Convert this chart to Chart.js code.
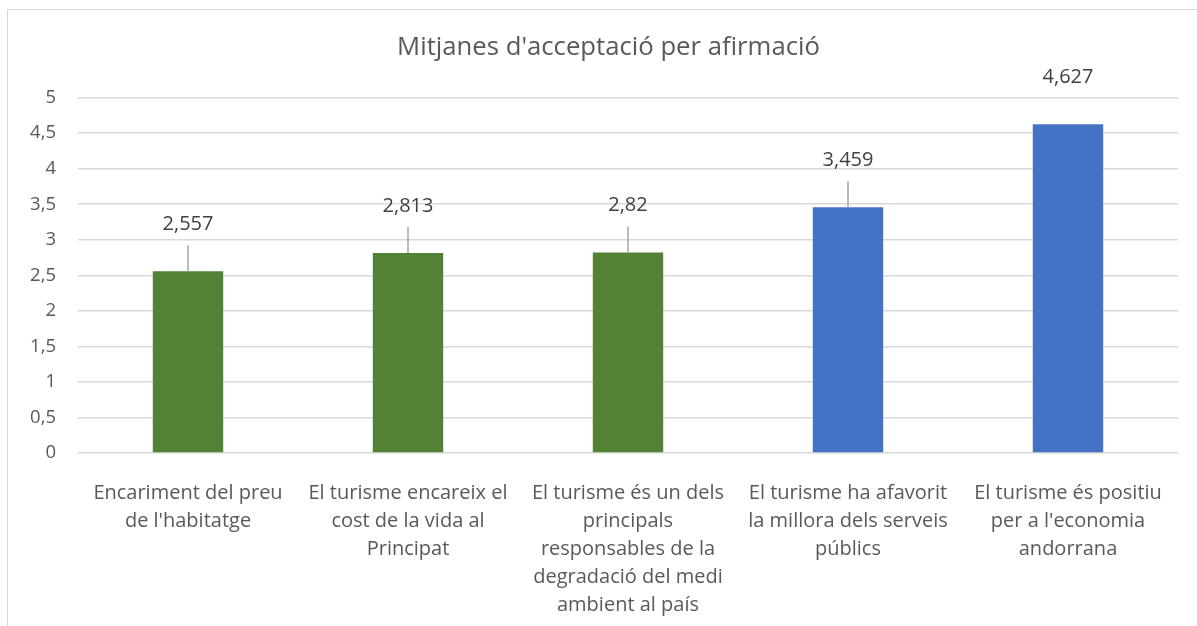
<!DOCTYPE html>
<html>
<head>
<meta charset="utf-8">
<script src="https://cdn.jsdelivr.net/npm/chart.js@4/dist/chart.umd.min.js"></script>
<style>
  body { margin: 0; background: #fff; }
  #wrap { position: relative; width: 1197px; height: 626px; overflow: hidden; }
  #frame { position: absolute; left: 7px; top: 9px; width: 1300px; height: 700px; border: 1px solid #d9d9d9; }
  canvas { position: absolute; left: 0; top: 0; }
</style>
</head>
<body>
<div id="wrap">
  <div id="frame"></div>
  <canvas id="barChart" width="1197" height="626"></canvas>
</div>
<script>
// categories, already wrapped as in the original
const categories = [
  ["Encariment del preu", "de l'habitatge"],
  ["El turisme encareix el", "cost de la vida al", "Principat"],
  ["El turisme és un dels", "principals", "responsables de la", "degradació del medi", "ambient al país"],
  ["El turisme ha afavorit", "la millora dels serveis", "públics"],
  ["El turisme és positiu", "per a l'economia", "andorrana"]
]
const values = [2.557, 2.813, 2.82, 3.459, 4.627]
const valueLabels = ["2,557", "2,813", "2,82", "3,459", "4,627"]
const barColors = ["#548235", "#548235", "#548235", "#4472C4", "#4472C4"]

const font = "'Open Sans', sans-serif"

// labels sitting above the bars, with leader lines like Excel
const dataLabels = {
  id: 'dataLabels',
  afterDatasetsDraw(chart, args, opts) {
    const ctx = chart.ctx
    const meta = chart.getDatasetMeta(0)
    ctx.save()
    ctx.font = '20px ' + font
    ctx.fillStyle = '#404040'
    ctx.textAlign = 'center'
    ctx.textBaseline = 'middle'
    meta.data.forEach((bar, i) => {
      const ly = bar.y - opts.offset
      ctx.fillText(valueLabels[i], bar.x, ly)
      if (opts.leaders[i]) {
        ctx.strokeStyle = '#a6a6a6'
        ctx.lineWidth = 1.5
        ctx.beginPath()
        ctx.moveTo(bar.x, ly + 21)
        ctx.lineTo(bar.x, bar.y)
        ctx.stroke()
      }
    })
    ctx.restore()
  }
}

// centre the title on the frame rather than on the canvas
const titleShift = {
  id: 'titleShift',
  afterLayout(chart) {
    if (chart.titleBlock) chart.titleBlock.left = 39
  }
}

const ctx = document.getElementById('barChart').getContext('2d')
const chart = new Chart(ctx, {
  type: 'bar',
  data: {
    labels: categories,
    datasets: [{
      data: values,
      backgroundColor: barColors,
      categoryPercentage: 1,
      barPercentage: 0.32
    }]
  },
  options: {
    responsive: false,
    animation: false,
    layout: { padding: { left: 0, right: 19, top: 0, bottom: 0 } },
    plugins: {
      legend: { display: false },
      tooltip: { enabled: false },
      title: {
        display: true,
        text: "Mitjanes d'acceptació per afirmació",
        color: '#595959',
        font: { family: font, size: 25.7, weight: 'normal' },
        padding: { top: 32, bottom: 34.8 }
      },
      dataLabels: { offset: 47, leaders: [true, true, true, true, false] }
    },
    scales: {
      y: {
        min: 0,
        max: 5,
        afterFit(scale) { scale.width = 78 },
        border: { display: false },
        grid: { color: '#d9d9d9', lineWidth: 1.5, drawTicks: false },
        ticks: {
          stepSize: 0.5,
          padding: 22,
          color: '#595959',
          font: { family: font, size: 18.5 },
          callback: v => v.toString().replace('.', ',')
        }
      },
      x: {
        afterFit(scale) { scale.height = 173 },
        border: { display: false },
        grid: { display: false },
        ticks: {
          maxRotation: 0,
          autoSkip: false,
          padding: 18,
          color: '#595959',
          font: { family: font, size: 20, lineHeight: 1.4 }
        }
      }
    }
  },
  plugins: [dataLabels, titleShift]
})
</script>
</body>
</html>
